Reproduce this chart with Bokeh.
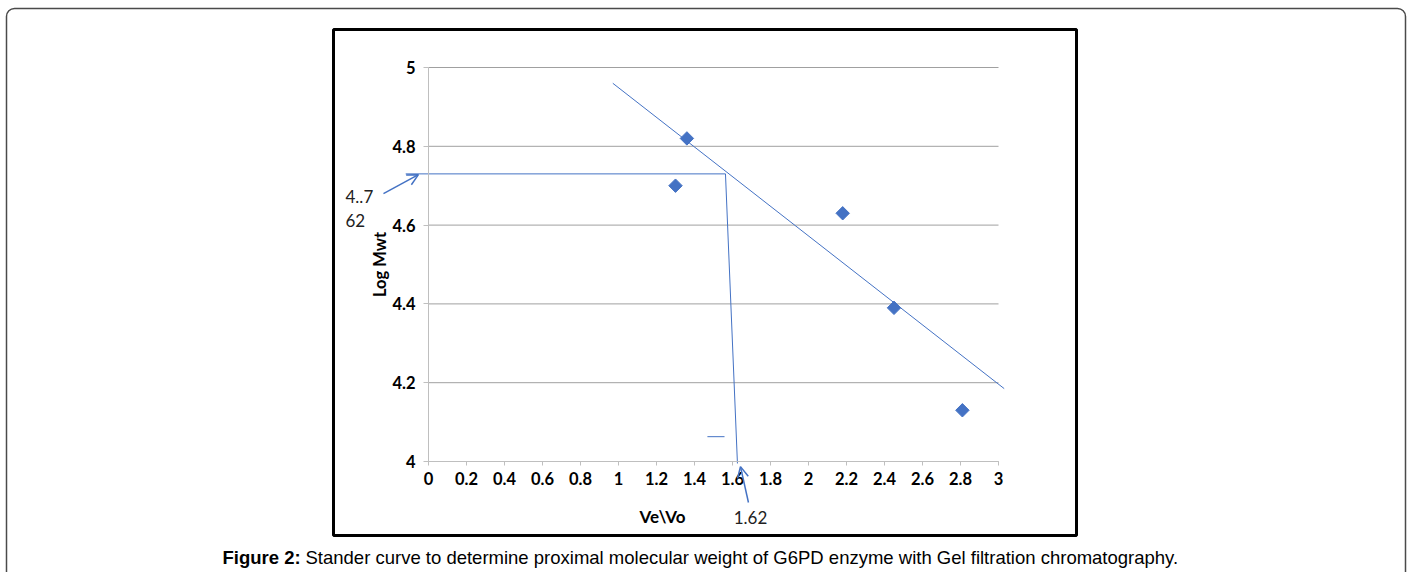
import math
from bokeh.plotting import figure
from bokeh.models import (Range1d, FixedTicker, NumeralTickFormatter, Label,
                          Arrow, OpenHead, BoxAnnotation, LinearAxis)
from bokeh.embed import file_html
from bokeh.resources import INLINE

# ---------------- data ----------------
ve_vo = [1.30, 1.36, 2.18, 2.45, 2.81]
log_mwt = [4.70, 4.82, 4.63, 4.39, 4.13]

trend_x = [0.97, 3.03]
trend_y = [4.96, 4.185]

read_line_x = [-0.12, 1.563]      # horizontal reading line
read_line_y = [4.730, 4.730]
drop_line_x = [1.563, 1.626]      # near-vertical drop line
drop_line_y = [4.730, 3.995]
dash_x = [1.468, 1.558]           # small stray dash
dash_y = [4.063, 4.063]

left_arrow_x = [-0.237, -0.053]
left_arrow_y = [4.680, 4.728]
bottom_arrow_x = [1.684, 1.642]
bottom_arrow_y = [3.896, 3.987]

x_ticks = [0, 0.2, 0.4, 0.6, 0.8, 1, 1.2, 1.4, 1.6, 1.8, 2, 2.2, 2.4, 2.6, 2.8, 3]
y_ticks = [4, 4.2, 4.4, 4.6, 4.8, 5]
x_bounds = (0, 3)
y_bounds = (4, 5)

x_label = "Ve\\Vo"
y_label = "Log Mwt"
read_value_lines = ["4..7", "62"]
x_read_value = "1.62"
caption_bold = "Figure 2:"
caption_rest = "Stander curve to determine proximal molecular weight of G6PD enzyme with Gel filtration chromatography."

# ---------------- layout helpers (canvas px -> data) ----------------
W, H = 1410, 572
FL, FT, FW, FH = 428, 67, 570, 394   # plot area in pixels


def X(px):
    return (px - FL) / FW * 3.0


def Y(py):
    return 5.0 - (py - FT) / FH * 1.0


BLUE = "#4472C4"

p = figure(frame_width=W, frame_height=H,
           min_border_left=0, min_border_right=0, min_border_top=0, min_border_bottom=0,
           x_range=Range1d(X(0), X(W)), y_range=Range1d(Y(H), Y(0)),
           x_axis_location=None, y_axis_location=None,
           output_backend="svg", toolbar_location=None,
           background_fill_color="white", border_fill_color="white")
p.outline_line_color = None
p.grid.visible = False

# boxes
outer = BoxAnnotation(left=X(6), right=X(1405), top=Y(8), bottom=Y(620),
                      fill_color=None, line_color="#4a4a4a", line_alpha=1.0, line_width=1.5,
                      border_radius=8, level="underlay")
inner = BoxAnnotation(left=X(333), right=X(1076), top=Y(29), bottom=Y(535),
                      fill_color=None, line_color="black", line_alpha=1.0, line_width=3,
                      level="underlay")
p.add_layout(outer)
p.add_layout(inner)

# horizontal gridlines
p.segment(x0=[x_bounds[0]] * len(y_ticks), x1=[x_bounds[1]] * len(y_ticks),
          y0=y_ticks, y1=y_ticks, line_color="#a0a0a0", line_width=1, level="underlay")

# axes, fixed at the data origin
xaxis = LinearAxis(fixed_location=y_bounds[0], bounds=x_bounds,
                   ticker=FixedTicker(ticks=x_ticks))
yaxis = LinearAxis(fixed_location=x_bounds[0], bounds=y_bounds,
                   ticker=FixedTicker(ticks=y_ticks))
for ax in (xaxis, yaxis):
    ax.axis_line_color = "#bfbfbf"
    ax.major_tick_line_color = "#bfbfbf"
    ax.minor_tick_line_color = None
    ax.major_tick_in = 0
    ax.major_label_text_font = "Lato"
    ax.major_label_text_font_style = "bold"
    ax.major_label_text_font_size = "16.5px"
    ax.major_label_text_color = "black"
    ax.formatter = NumeralTickFormatter(format="0.[0]")
xaxis.major_tick_out = 4
yaxis.major_tick_out = 5
xaxis.major_label_standoff = 6
yaxis.major_label_standoff = 8
p.add_layout(xaxis, "below")
p.add_layout(yaxis, "left")

# data points
p.scatter(ve_vo, log_mwt, marker="square", angle=math.pi / 4, size=9.5,
          fill_color=BLUE, line_color=BLUE)

# lines
p.line(trend_x, trend_y, line_color=BLUE, line_width=1)
p.line(read_line_x, read_line_y, line_color=BLUE, line_width=1)
p.line(drop_line_x, drop_line_y, line_color=BLUE, line_width=1)
p.line(dash_x, dash_y, line_color=BLUE, line_width=1)

# arrows
p.add_layout(Arrow(x_start=left_arrow_x[0], y_start=left_arrow_y[0], x_end=left_arrow_x[1], y_end=left_arrow_y[1],
                   end=OpenHead(size=11, line_color=BLUE, line_width=1.5),
                   line_color=BLUE, line_width=1.5))
p.add_layout(Arrow(x_start=bottom_arrow_x[0], y_start=bottom_arrow_y[0], x_end=bottom_arrow_x[1], y_end=bottom_arrow_y[1],
                   end=OpenHead(size=11, line_color=BLUE, line_width=1.5),
                   line_color=BLUE, line_width=1.5))

# texts
p.add_layout(Label(x=X(379), y=Y(264), text=y_label, angle=math.pi / 2,
                   text_align="center", text_baseline="middle",
                   text_font="Lato", text_font_style="bold", text_font_size="16.5px",
                   text_color="black"))
p.add_layout(Label(x=X(662), y=Y(516), text=x_label,
                   text_align="center", text_baseline="middle",
                   text_font="Lato", text_font_style="bold", text_font_size="17px",
                   text_color="black"))
p.add_layout(Label(x=X(750), y=Y(517), text=x_read_value,
                   text_align="center", text_baseline="middle",
                   text_font="Lato", text_font_size="17px", text_color="#222222"))
p.add_layout(Label(x=X(345), y=Y(196), text=read_value_lines[0],
                   text_align="left", text_baseline="middle",
                   text_font="Lato", text_font_size="17px", text_color="#222222"))
p.add_layout(Label(x=X(345), y=Y(220), text=read_value_lines[1],
                   text_align="left", text_baseline="middle",
                   text_font="Lato", text_font_size="17px", text_color="#222222"))
p.add_layout(Label(x=X(222), y=Y(556.5), text=caption_bold,
                   text_align="left", text_baseline="middle",
                   text_font="Liberation Sans", text_font_style="bold", text_font_size="18.5px",
                   text_color="black"))
p.add_layout(Label(x=X(305), y=Y(556.5), text=caption_rest,
                   text_align="left", text_baseline="middle",
                   text_font="Liberation Sans", text_font_size="18.5px",
                   text_color="black"))

open("out.html", "w").write(file_html(p, INLINE))
